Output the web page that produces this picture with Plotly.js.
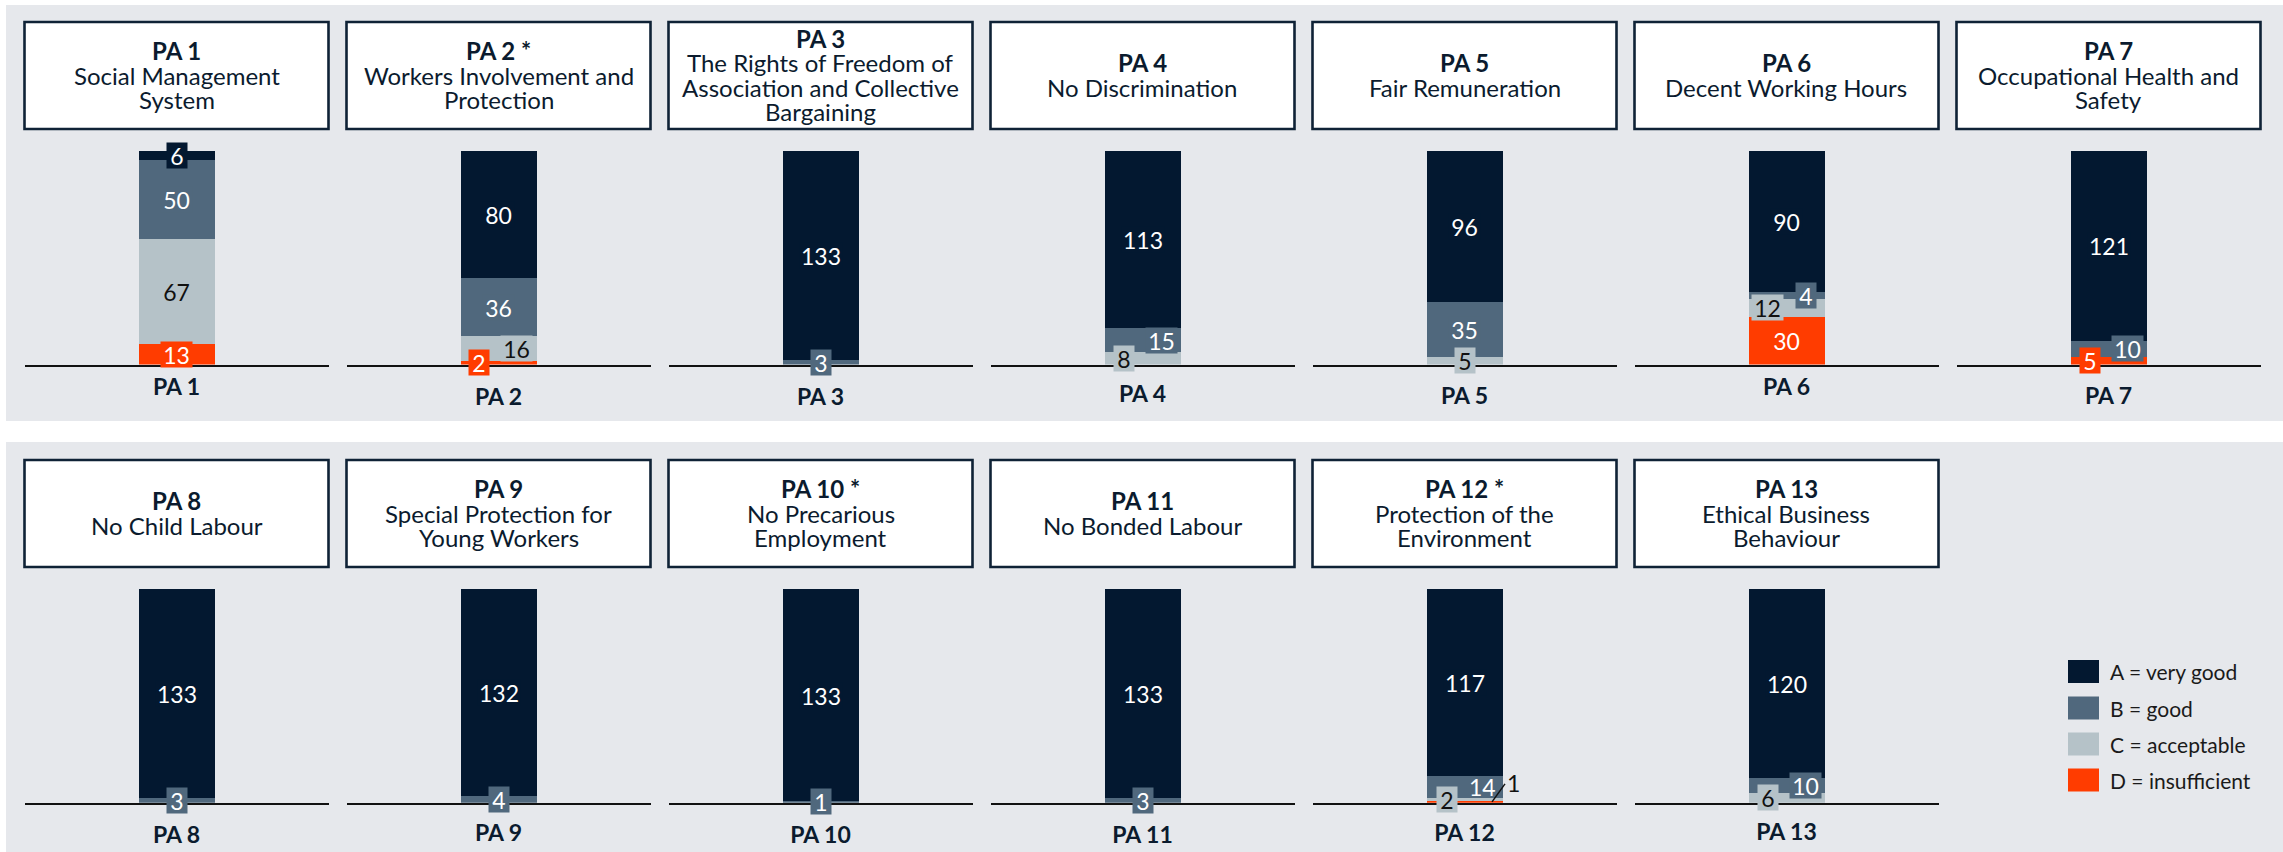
<!DOCTYPE html>
<html>
<head>
<meta charset="utf-8">
<script src="https://cdn.plot.ly/plotly-3.0.1.min.js"></script>
<style>
  html, body { margin: 0; padding: 0; background: #ffffff; }
  #chart { width: 2283px; height: 852px; }
</style>
</head>
<body>
<div id="chart"></div>
<script>
// ---------------- DATA ----------------
const categories = ['PA 1','PA 2','PA 3','PA 4','PA 5','PA 6','PA 7','PA 8','PA 9','PA 10','PA 11','PA 12','PA 13'];
const titleHeads = ['PA 1','PA 2 *','PA 3','PA 4','PA 5','PA 6','PA 7','PA 8','PA 9','PA 10 *','PA 11','PA 12 *','PA 13'];
const titleNames = [
  'Social Management<br>System',
  'Workers Involvement and<br>Protection',
  'The Rights of Freedom of<br>Association and Collective<br>Bargaining',
  'No Discrimination',
  'Fair Remuneration',
  'Decent Working Hours',
  'Occupational Health and<br>Safety',
  'No Child Labour',
  'Special Protection for<br>Young Workers',
  'No Precarious<br>Employment',
  'No Bonded Labour',
  'Protection of the<br>Environment',
  'Ethical Business<br>Behaviour'
];
const seriesNames = ['A = very good','B = good','C = acceptable','D = insufficient'];
const valuesA = [6, 80, 133, 113, 96, 90, 121, 133, 132, 133, 133, 117, 120];
const valuesB = [50, 36, 3, 15, 35, 4, 10, 3, 4, 1, 3, 14, 10];
const valuesC = [67, 16, 0, 8, 5, 12, 0, 0, 0, 0, 0, 2, 6];
const valuesD = [13, 2, 0, 0, 0, 30, 5, 0, 0, 0, 0, 1, 0];

// ---------------- STYLE ----------------
const W = 2283, H = 852;
const FONT = 'Lato, "Open Sans", "DejaVu Sans", sans-serif';
const TEXT = '#0b1b2e';
const seriesColors = ['#031830', '#50687d', '#b5c2c8', '#ff3c00'];
const labelColors = ['#ffffff', '#ffffff', '#111111', '#ffffff'];
const seriesValues = [valuesA, valuesB, valuesC, valuesD];
const stackOrder = [3, 2, 1, 0]; // bottom -> top : D, C, B, A

// label offsets (px) for small segments, keyed by panel|series index
const labelShift = {
  '1|2': 18, '1|3': -20,
  '3|1': 19, '3|2': -19,
  '5|1': 19, '5|2': -19,
  '6|1': 19, '6|3': -19,
  '11|1': 18, '11|2': -18,
  '12|1': 19, '12|2': -19
};
const noBox = { '11|1': true };
// leader-line labels: tip offset from bar centre, line vector, text offset from tip (px)
const callouts = { '11|3': { tipx: 27.5, lx: 13, ly: 18, tx: 21, ty: 19 } };
const tickStandoff = [1, 11, 11, 8, 10, 1, 10, 11, 9, 11, 11, 9, 8];

const rows = [
  { boxTop: 22, boxBottom: 129, barTop: 151, base: 364.5, bgTop: 5, bgBottom: 421 },
  { boxTop: 460, boxBottom: 567, barTop: 589, base: 802.7, bgTop: 442, bgBottom: 852 }
];
const colStart = 24.5, colPitch = 322, colWidth = 304;
const px = v => v / W;
const py = v => 1 - v / H;

const traces = [];
const annotations = [];
const lateAnnotations = [];
const shapes = [];
const layout = {
  width: W, height: H,
  margin: { l: 0, r: 0, t: 0, b: 0, pad: 0 },
  paper_bgcolor: '#ffffff',
  plot_bgcolor: 'rgba(0,0,0,0)',
  barmode: 'stack',
  barnorm: 'percent',
  showlegend: false,
  font: { family: FONT, color: TEXT },
  hovermode: false
};

// gray backgrounds
rows.forEach(r => {
  shapes.push({ type: 'rect', xref: 'paper', yref: 'paper', layer: 'below',
    x0: px(6), x1: 1, y0: py(r.bgBottom), y1: py(r.bgTop),
    fillcolor: '#e6e8ec', line: { width: 0 } });
});

categories.forEach((cat, i) => {
  const row = rows[i < 7 ? 0 : 1];
  const col = i % 7;
  const left = colStart + col * colPitch;
  const right = left + colWidth;
  const ax = i === 0 ? '' : String(i + 1);

  layout['xaxis' + ax] = {
    domain: [px(left), px(right)], anchor: 'y' + ax, type: 'category',
    range: [-0.5, 0.5], showline: true, linecolor: '#111111', linewidth: 2,
    showgrid: false, zeroline: false, ticks: '', fixedrange: true,
    tickfont: { family: FONT, size: 23, color: TEXT, weight: 'bold' },
    ticklabelstandoff: tickStandoff[i]
  };
  layout['yaxis' + ax] = {
    domain: [py(row.base), py(row.barTop)], anchor: 'x' + ax,
    range: [0, 100], visible: false, fixedrange: true
  };

  // title box
  shapes.push({ type: 'rect', xref: 'paper', yref: 'paper', layer: 'above',
    x0: px(left), x1: px(right), y0: py(row.boxBottom), y1: py(row.boxTop),
    fillcolor: '#ffffff', line: { color: '#0f2236', width: 2.6 } });
  const lines = [titleHeads[i]].concat(titleNames[i].split('<br>'));
  const center = (row.boxTop + row.boxBottom) / 2 - 0.5;
  const lh = 24.5;
  lines.forEach((t, k) => {
    const yy = center + (k - (lines.length - 1) / 2) * lh;
    annotations.push({ xref: 'paper', yref: 'paper', x: px((left + right) / 2), y: py(yy),
      xanchor: 'center', yanchor: 'middle', showarrow: false, text: t,
      font: { family: FONT, size: 24, color: TEXT, weight: k === 0 ? 'bold' : 'normal' } });
  });

  // bars
  let total = 0;
  stackOrder.forEach(s => { total += seriesValues[s][i]; });
  let cum = 0;
  stackOrder.forEach(s => {
    const v = seriesValues[s][i];
    traces.push({ type: 'bar', x: [cat], y: [v], width: 0.25, name: seriesNames[s],
      xaxis: 'x' + ax, yaxis: 'y' + ax, marker: { color: seriesColors[s], line: { width: 0 } },
      hoverinfo: 'skip', showlegend: false });
    if (v > 0) {
      const mid = (cum + v / 2) / total * 100;
      const key = i + '|' + s;
      const txt = String(v);
      if (callouts[key]) {
        const c = callouts[key];
        // leader line (shape anchored to the bar's data point, sized in pixels)
        shapes.push({ type: 'line', layer: 'above', xref: 'x' + ax, yref: 'y' + ax,
          xsizemode: 'pixel', ysizemode: 'pixel', xanchor: 0, yanchor: mid,
          x0: c.tipx, y0: 0, x1: c.tipx + c.lx, y1: c.ly,
          line: { color: '#111111', width: 1.5 } });
        // label
        lateAnnotations.push({ xref: 'x' + ax, yref: 'y' + ax, x: cat, y: mid, text: txt,
          xshift: c.tipx + c.tx, yshift: c.ty, showarrow: false, xanchor: 'center', yanchor: 'middle',
          font: { family: FONT, size: 23, color: '#111111' } });
      } else {
        const a = { xref: 'x' + ax, yref: 'y' + ax, x: cat, y: mid, text: txt,
          xshift: labelShift[key] || 0, showarrow: false, xanchor: 'center', yanchor: 'middle',
          font: { family: FONT, size: 23, color: labelColors[s] } };
        if (!noBox[key]) {
          a.bgcolor = seriesColors[s]; a.borderpad = 0;
          a.width = txt.length * 11 + 9; a.height = 25;
        }
        annotations.push(a);
      }
    }
    cum += v;
  });
});

// legend
const legendY = [671.5, 708, 744, 780];
seriesNames.forEach((n, s) => {
  shapes.push({ type: 'rect', xref: 'paper', yref: 'paper', layer: 'above',
    x0: px(2068), x1: px(2099), y0: py(legendY[s] + 11.5), y1: py(legendY[s] - 11.5),
    fillcolor: seriesColors[s], line: { width: 0 } });
  annotations.push({ xref: 'paper', yref: 'paper', x: px(2108), y: py(legendY[s]),
    xanchor: 'left', yanchor: 'middle', showarrow: false, text: n,
    font: { family: FONT, size: 21, color: '#1a1a1a' } });
});

layout.shapes = shapes;
layout.annotations = annotations.concat(lateAnnotations);

Plotly.newPlot('chart', traces, layout, { staticPlot: true, displayModeBar: false });
</script>
</body>
</html>
